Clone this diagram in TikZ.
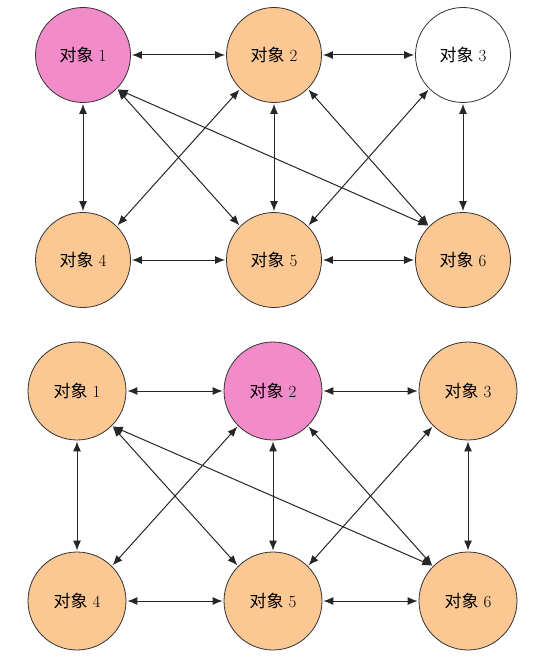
\documentclass[tikz,border=0pt]{standalone}
\usepackage{fontspec}
\newfontfamily\cjk{Noto Sans CJK SC}
\usetikzlibrary{arrows.meta}
\definecolor{peach}{HTML}{FBC793}
\definecolor{rose}{HTML}{F28BC9}
\begin{document}
\begin{tikzpicture}[x=1pt,y=-1pt,
    obj/.style={circle,draw=black!80,line width=.8pt,inner sep=0pt,minimum size=95pt,fill=peach,font=\fontsize{17}{17}\selectfont},
    link/.style={{Latex[length=10pt,width=8pt]}-{Latex[length=10pt,width=8pt]},line width=1pt,draw=black!85,shorten <=1pt,shorten >=1pt}]
    \useasboundingbox (0,0) rectangle (547,663);
    \node[obj,fill=rose](a1) at (83,55) {{\cjk 对象} 1};
    \node[obj](a2) at (274,55) {{\cjk 对象} 2};
    \node[obj,fill=white](a3) at (463,55) {{\cjk 对象} 3};
    \node[obj](a4) at (83,260) {{\cjk 对象} 4};
    \node[obj](a5) at (274,260) {{\cjk 对象} 5};
    \node[obj](a6) at (463,260) {{\cjk 对象} 6};
    \draw[link](a1.east)--(a2.west);
    \draw[link](a2.east)--(a3.west);
    \draw[link](a4.east)--(a5.west);
    \draw[link](a5.east)--(a6.west);
    \draw[link](a1.south)--(a4.north);
    \draw[link](a2.south)--(a5.north);
    \draw[link](a3.south)--(a6.north);
    \draw[link](a1.south east)--(a5.north west);
    \draw[link](a1.south east)--(a6.north west);
    \draw[link](a2.south west)--(a4.north east);
    \draw[link](a2.south east)--(a6.north west);
    \draw[link](a3.south west)--(a5.north east);
    \node[obj,minimum size=98pt](b1) at (77,391) {{\cjk 对象} 1};
    \node[obj,minimum size=98pt,fill=rose](b2) at (273,391) {{\cjk 对象} 2};
    \node[obj,minimum size=98pt](b3) at (468,391) {{\cjk 对象} 3};
    \node[obj,minimum size=98pt](b4) at (77,601) {{\cjk 对象} 4};
    \node[obj,minimum size=98pt](b5) at (273,601) {{\cjk 对象} 5};
    \node[obj,minimum size=98pt](b6) at (468,601) {{\cjk 对象} 6};
    \draw[link](b1.east)--(b2.west);
    \draw[link](b2.east)--(b3.west);
    \draw[link](b4.east)--(b5.west);
    \draw[link](b5.east)--(b6.west);
    \draw[link](b1.south)--(b4.north);
    \draw[link](b2.south)--(b5.north);
    \draw[link](b3.south)--(b6.north);
    \draw[link](b1.south east)--(b5.north west);
    \draw[link](b1.south east)--(b6.north west);
    \draw[link](b2.south west)--(b4.north east);
    \draw[link](b2.south east)--(b6.north west);
    \draw[link](b3.south west)--(b5.north east);
\end{tikzpicture}
\end{document}
